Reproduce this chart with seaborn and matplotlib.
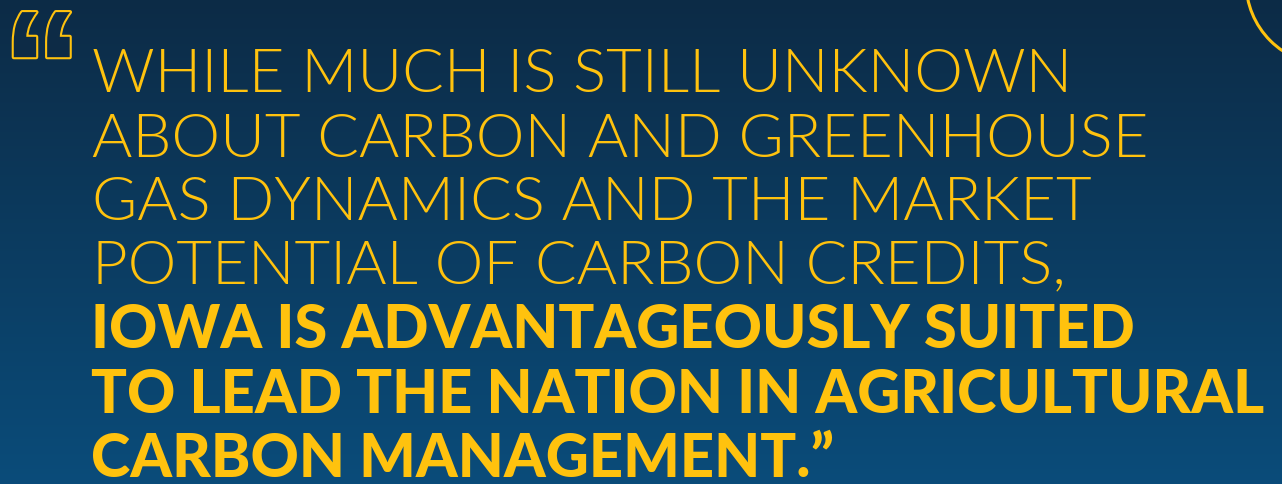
import matplotlib
matplotlib.use("Agg")
import matplotlib.pyplot as plt
import matplotlib.patheffects as pe
from matplotlib.patches import Circle
import numpy as np
import seaborn as sns

W, H = 1282, 485

light_lines = [
    "WHILE MUCH IS STILL UNKNOWN",
    "ABOUT CARBON AND GREENHOUSE",
    "GAS DYNAMICS AND THE MARKET",
    "POTENTIAL OF CARBON CREDITS,",
]
bold_lines = [
    "IOWA IS ADVANTAGEOUSLY SUITED",
    "TO LEAD THE NATION IN AGRICULTURAL",
    "CARBON MANAGEMENT.\u201d",
]
light_baselines = [92, 157, 220, 283]
bold_baselines = [348, 413, 477]

gold = "#FFC20E"
bg_top = "#0d2b46"
bg_bottom = "#0a4c7a"

sns.set_theme(style="white")
plt.rcParams["font.family"] = ["Lato", "DejaVu Sans"]

fig = plt.figure(figsize=(W / 100, H / 100), dpi=100)
ax = fig.add_axes([0, 0, 1, 1])
ax.set_xlim(0, W)
ax.set_ylim(H, 0)
ax.axis("off")

cmap = sns.blend_palette([bg_top, bg_bottom], n_colors=256, as_cmap=True)
grad = np.linspace(0, 1, 256).reshape(-1, 1)
ax.imshow(grad, cmap=cmap, extent=[0, W, H, 0], aspect="auto", zorder=0)

renderer = fig.canvas.get_renderer()


def fit_size(txt, weight, target, size=40):
    # scale font size so the line spans the wanted pixel width
    t = ax.text(0, 0, txt, fontsize=size, fontweight=weight)
    w = t.get_window_extent(renderer).width
    t.remove()
    return size * target / w


light_size = fit_size(light_lines[1], 300, 1147 - 92)
bold_size = fit_size(bold_lines[1], "black", 1265 - 92)

for txt, y in zip(light_lines, light_baselines):
    ax.text(92, y, txt, fontsize=light_size, fontweight=300, color=gold,
            va="baseline", ha="left")
for txt, y in zip(bold_lines, bold_baselines):
    ax.text(91, y, txt, fontsize=bold_size, fontweight="black", color=gold,
            va="baseline", ha="left")

# outlined opening quote mark
ax.text(2, 123, "\u201c", fontsize=115, fontweight="bold",
        family="Liberation Sans", color=bg_top, va="baseline", ha="left",
        path_effects=[pe.withStroke(linewidth=3, foreground=gold)])

# arc in the top-right corner
ax.add_patch(Circle((1329, -17), 83, fill=False, edgecolor=gold, lw=2.2))

fig.savefig("out.png", dpi=100)
